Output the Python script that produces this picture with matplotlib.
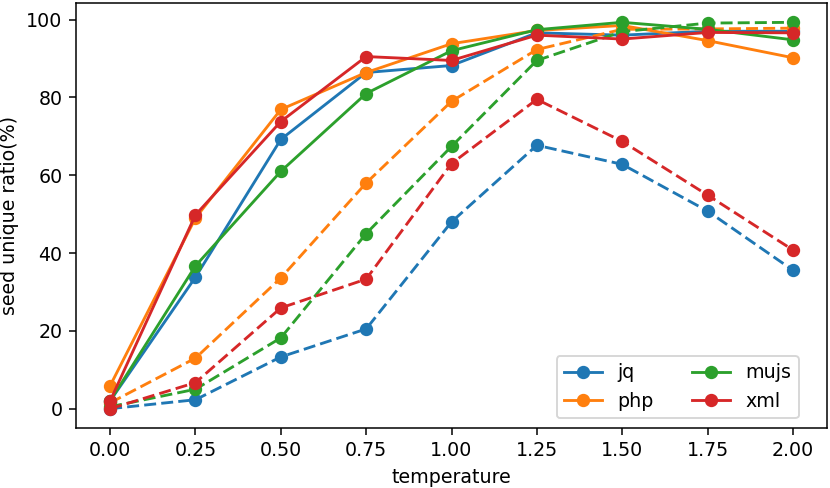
import numpy as np
import matplotlib.pyplot as plt

# temperatures
temperature = [0.00, 0.25, 0.50, 0.75, 1.00, 1.25, 1.50, 1.75, 2.00]

# solid lines
jq_solid = [2.0, 33.8, 69.2, 86.4, 88.2, 96.6, 96.0, 97.0, 97.0]
php_solid = [5.9, 49.0, 76.9, 86.4, 93.8, 97.2, 98.5, 94.6, 90.2]
mujs_solid = [2.0, 36.7, 61.0, 81.0, 92.0, 97.4, 99.3, 97.5, 94.8]
xml_solid = [2.0, 49.8, 73.8, 90.5, 89.5, 96.0, 95.0, 96.7, 96.6]

# dashed lines
jq_dashed = [0.0, 2.3, 13.3, 20.5, 48.0, 67.7, 62.8, 50.8, 35.6]
php_dashed = [1.5, 13.0, 33.6, 58.0, 79.0, 92.3, 97.5, 97.6, 97.8]
mujs_dashed = [0.5, 5.0, 18.2, 45.0, 67.4, 89.5, 96.9, 99.1, 99.3]
xml_dashed = [0.0, 6.7, 25.9, 33.3, 63.0, 79.5, 68.7, 54.9, 40.8]

names = ["jq", "php", "mujs", "xml"]
solid = [jq_solid, php_solid, mujs_solid, xml_solid]
dashed = [jq_dashed, php_dashed, mujs_dashed, xml_dashed]
colors = ["C0", "C1", "C2", "C3"]

fig = plt.figure(figsize=(830 / 137, 488 / 137), dpi=137)
ax = fig.add_axes([76 / 830, 1 - 428 / 488, 751 / 830, 425 / 488])

for name, s, d, c in zip(names, solid, dashed, colors):
    ax.plot(temperature, s, marker="o", color=c, label=name)
    ax.plot(temperature, d, marker="o", linestyle="--", dashes=(4.2, 1.8), color=c)

ax.set_xticks(temperature)
ax.set_xticklabels([f"{t:.2f}" for t in temperature])
ax.set_xlabel("temperature")
ax.set_ylabel("seed unique ratio(%)")
ax.legend(loc="lower right", ncol=2, bbox_to_anchor=(0.975, 0))

fig.savefig("out.png", dpi=137)
